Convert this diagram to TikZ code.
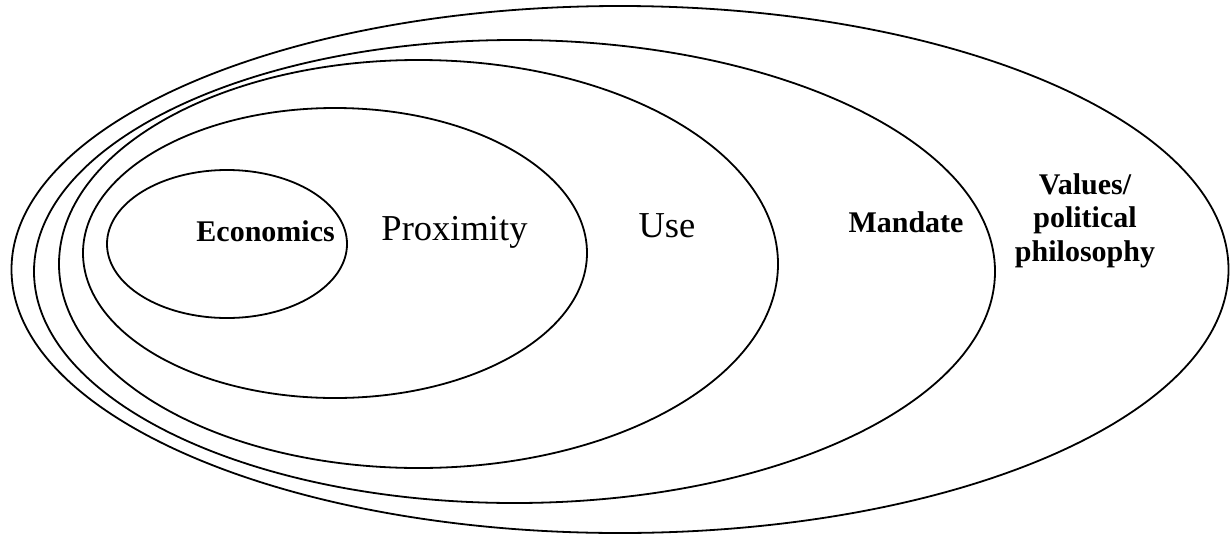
\documentclass[tikz,border=0pt]{standalone}
\usepackage{fontspec}
\setmainfont{Liberation Serif}
\begin{document}
\begin{tikzpicture}[x=1pt,y=-1pt,
  ring/.style={draw=black,line width=1.8pt},
  plainlabel/.style={font=\fontsize{36.5}{40}\selectfont,inner sep=0pt},
  boldlabel/.style={font=\fontsize{30}{33.5}\selectfont\bfseries,inner sep=0pt,align=center}]
\useasboundingbox (0,0) rectangle (1230,533);
% nested circles of concern, innermost first
\draw[ring] (227,244) ellipse [x radius=120, y radius=74];
\draw[ring] (335,253) ellipse [x radius=252, y radius=145];
\draw[ring] (418.5,264) ellipse [x radius=359.5, y radius=204];
\draw[ring] (514.5,271.5) ellipse [x radius=480.5, y radius=231.5];
\draw[ring] (620,269.5) ellipse [x radius=608.5, y radius=263.5];
% labels
\node[boldlabel,anchor=base east] (econ) at (335,241) {Economics};
\node[plainlabel,anchor=base] (prox) at (454.5,240) {Proximity};
\node[plainlabel,anchor=base] (use) at (667,237) {Use};
\node[boldlabel,anchor=base] (mand) at (906,232) {Mandate};
\node[boldlabel,anchor=base] (vals3) at (1085,261) {philosophy};
\node[boldlabel,anchor=base] (vals2) at (1085,227.5) {political};
\node[boldlabel,anchor=base] (vals1) at (1085,194) {Values/};
\end{tikzpicture}
\end{document}
